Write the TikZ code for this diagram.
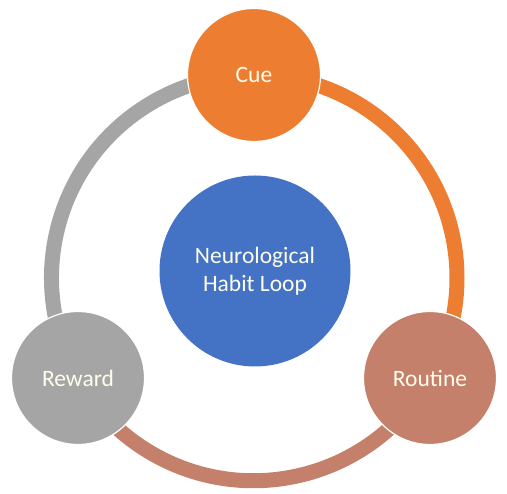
\documentclass[tikz,border=0pt]{standalone}
\usepackage{fontspec}
\setmainfont{Carlito}
\usetikzlibrary{backgrounds}
\definecolor{cueorange}{HTML}{ED7D31}
\definecolor{loopblue}{HTML}{4472C4}
\definecolor{rewardgray}{HTML}{A5A5A5}
\definecolor{routinered}{HTML}{C5806B}
\begin{document}
\begin{tikzpicture}[x=1pt, y=1pt, font=\fontsize{23.5}{28}\selectfont,
          stage/.style={circle, draw=white, line width=1.2pt, minimum size=133pt, inner sep=0pt, text=white!92!yellow, align=center},
          ring/.style={line width=15pt}]
        \useasboundingbox (0,0) rectangle (507,494);
        \node[stage, fill=cueorange] (cue) at (254,419) {Cue};
        \node[stage, fill=routinered] (routine) at (430,116) {Routine};
        \node[stage, fill=rewardgray] (reward) at (78,116) {Reward};
        \node[circle, fill=loopblue, minimum size=191pt, text=white!92!yellow, align=center] (habit) at (255,223) {Neurological\\Habit Loop};
        % loop ring, radius 203
        \begin{scope}[on background layer]
          \draw[ring, cueorange] (cue.center) arc[start angle=90, end angle=-29.6, radius=203];
          \draw[ring, routinered] (routine.center) arc[start angle=-29.6, end angle=-150.4, radius=203];
          \draw[ring, rewardgray] (reward.center) arc[start angle=209.6, end angle=90, radius=203];
        \end{scope}
      \end{tikzpicture}
\end{document}
